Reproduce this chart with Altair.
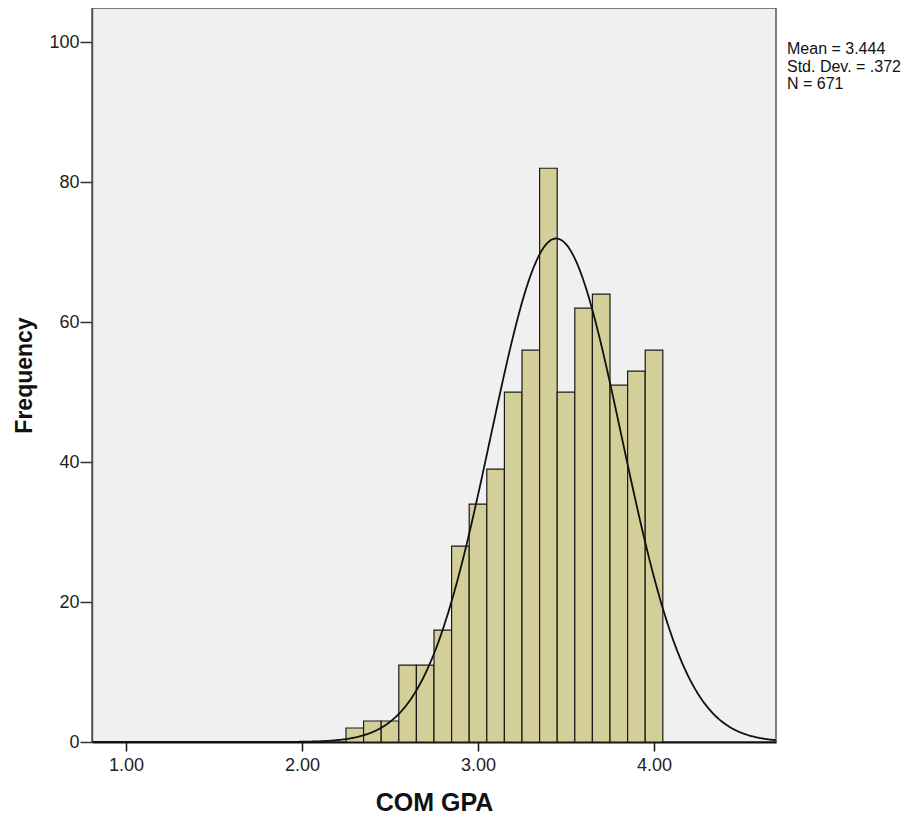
import altair as alt
import pandas as pd

# Histogram bins (width 0.1) and counts
bin_starts = [2.25, 2.35, 2.45, 2.55, 2.65, 2.75, 2.85, 2.95, 3.05, 3.15,
              3.25, 3.35, 3.45, 3.55, 3.65, 3.75, 3.85, 3.95]
counts = [2, 3, 3, 11, 11, 16, 28, 34, 39, 50, 56, 82, 50, 62, 64, 51, 53, 56]
bin_width = 0.1

# Summary statistics shown in the chart
mean_val = 3.444
sd_val = 0.372
n_val = 671
stat_lines = ["Mean = 3.444", "Std. Dev. = .372", "N = 671"]

x_ticks = [1, 2, 3, 4]
y_ticks = [0, 20, 40, 60, 80, 100]
x_domain = [0.807, 4.693]
y_domain = [0, 104.9]

FONT = "Liberation Sans"
W, H = 684, 734

bars_df = pd.DataFrame({
    "start": bin_starts,
    "end": [b + bin_width for b in bin_starts],
    "count": counts,
})

xscale = alt.Scale(domain=x_domain, nice=False, zero=False)
yscale = alt.Scale(domain=y_domain, nice=False)

bars = alt.Chart(bars_df).mark_rect(
    fill="#d4cf98", stroke="#1a1a1a", strokeWidth=1.2
).encode(
    x=alt.X("start:Q", scale=xscale, title="COM GPA",
            axis=alt.Axis(values=x_ticks, format=".2f", grid=False,
                          tickSize=9, tickWidth=1.5, tickColor="#111",
                          domainColor="#111", domainWidth=2,
                          labelFont=FONT, labelFontSize=18, labelColor="#222",
                          labelPadding=5,
                          titleFont=FONT, titleFontSize=25, titleFontWeight="bold",
                          titleColor="#111", titlePadding=16)),
    x2="end:Q",
    y=alt.Y("count:Q", scale=yscale, title="Frequency",
            axis=alt.Axis(values=y_ticks, grid=False, tickSize=12,
                          tickWidth=1.5, tickColor="#333",
                          domainColor="#555", domainWidth=1.5,
                          labelFont=FONT, labelFontSize=18, labelColor="#222",
                          labelPadding=1,
                          titleFont=FONT, titleFontSize=23, titleFontWeight="bold",
                          titleColor="#111", titlePadding=12)),
    y2=alt.datum(0),
)

peak = n_val * bin_width / (sd_val * (2 * 3.141592653589793) ** 0.5)
curve = alt.Chart(alt.sequence(x_domain[0], x_domain[1] + 0.001, 0.005, as_="x")).transform_calculate(
    dens=f"{peak} * exp(-0.5 * pow((datum.x - {mean_val}) / {sd_val}, 2))"
).mark_line(color="#111", strokeWidth=1.8, clip=True).encode(
    x=alt.X("x:Q", scale=xscale),
    y=alt.Y("dens:Q", scale=yscale),
)

stats = alt.Chart(pd.DataFrame({"k": [0]})).mark_text(
    align="left", baseline="top", font=FONT, fontSize=16, lineHeight=17.5,
    color="#111"
).encode(
    x=alt.value(W + 11),
    y=alt.value(33),
    text=alt.value(stat_lines),
)

chart = alt.layer(bars, curve, stats).properties(
    width=W, height=H,
    autosize=alt.AutoSizeParams(type="none"),
    padding={"left": 84, "top": 0, "right": 134, "bottom": 78},
    background="white",
).configure_view(
    fill="#f0f0f0", stroke="#555", strokeWidth=1.5
)

chart.save("out.html", embed_options={"renderer": "svg", "actions": False})
